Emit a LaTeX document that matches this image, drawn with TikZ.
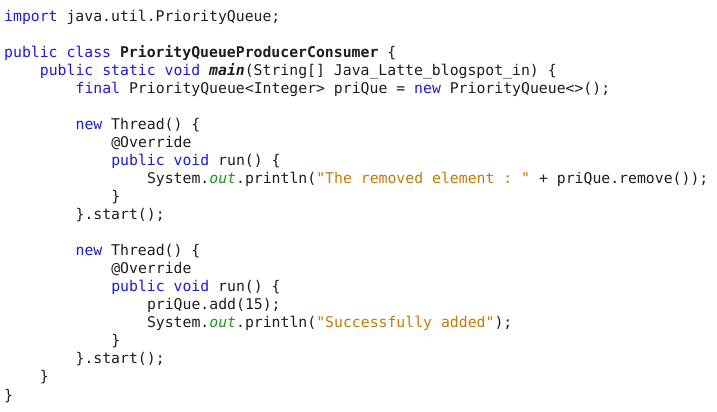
\documentclass[tikz,border=0pt]{standalone}
\usepackage{fontspec}
\setmonofont{DejaVu Sans Mono}
\definecolor{kwblue}{HTML}{1A1AE6}
\definecolor{strorange}{HTML}{C87A00}
\definecolor{fieldgreen}{HTML}{1A9A1A}
\definecolor{plaintext}{HTML}{1E1E1E}
\newcommand{\kw}[1]{\textcolor{kwblue}{#1}}
\newcommand{\str}[1]{\textcolor{strorange}{#1}}
\newcommand{\fld}[1]{\textcolor{fieldgreen}{\itshape #1}}

\begin{document}
\begin{tikzpicture}[x=1pt,y=1pt,
  codeline/.style={anchor=base west,inner sep=0,text=plaintext,font=\ttfamily\fontsize{14.8}{18}\selectfont}]
  \useasboundingbox[fill=white] (0,0) rectangle (717,412);
  % indent step is four characters
  \def\ind#1{4+#1*35.7}
  \node[codeline] (l1) at ({\ind{0}},{412-22}) {\kw{import} java.util.PriorityQueue;};
  \node[codeline] (l3) at ({\ind{0}},{412-58}) {\kw{public} \kw{class} \textbf{PriorityQueueProducerConsumer} \{};
  \node[codeline] (l4) at ({\ind{1}},{412-76}) {\kw{public} \kw{static} \kw{void} \textbf{\textit{main}}(String[] Java\_Latte\_blogspot\_in) \{};
  \node[codeline] (l5) at ({\ind{2}},{412-94}) {\kw{final} PriorityQueue<Integer> priQue = \kw{new} PriorityQueue<>();};
  \node[codeline] (l7) at ({\ind{2}},{412-130}) {\kw{new} Thread() \{};
  \node[codeline] (l8) at ({\ind{3}},{412-148}) {@Override};
  \node[codeline] (l9) at ({\ind{3}},{412-166}) {\kw{public} \kw{void} run() \{};
  \node[codeline] (l10) at ({\ind{4}},{412-184}) {System.\fld{out}.println(\str{"The removed element : "} + priQue.remove());};
  \node[codeline] (l11) at ({\ind{3}},{412-202}) {\}};
  \node[codeline] (l12) at ({\ind{2}},{412-220}) {\}.start();};
  \node[codeline] (l14) at ({\ind{2}},{412-256}) {\kw{new} Thread() \{};
  \node[codeline] (l15) at ({\ind{3}},{412-274}) {@Override};
  \node[codeline] (l16) at ({\ind{3}},{412-292}) {\kw{public} \kw{void} run() \{};
  \node[codeline] (l17) at ({\ind{4}},{412-310}) {priQue.add(15);};
  \node[codeline] (l18) at ({\ind{4}},{412-328}) {System.\fld{out}.println(\str{"Successfully added"});};
  \node[codeline] (l19) at ({\ind{3}},{412-346}) {\}};
  \node[codeline] (l20) at ({\ind{2}},{412-364}) {\}.start();};
  \node[codeline] (l21) at ({\ind{1}},{412-382}) {\}};
  \node[codeline] (l22) at ({\ind{0}},{412-400}) {\}};
\end{tikzpicture}
\end{document}
